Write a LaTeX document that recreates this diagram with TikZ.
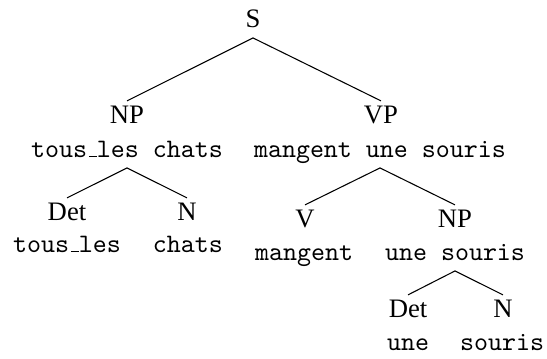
\documentclass[tikz,border=0pt]{standalone}
\usepackage{fontspec}
\setmainfont{Liberation Serif}
\setmonofont{Latin Modern Mono}
\newcommand\usc{\leavevmode\kern.06em\vbox{\hrule width.3em}}
\begin{document}
\begin{tikzpicture}[x=0.375pt,y=-0.375pt,
  cat/.style={font=\rmfamily, anchor=base, inner sep=0pt},
  word/.style={font=\ttfamily, anchor=base, inner sep=0pt},
  branch/.style={line width=0.4pt}]
\useasboundingbox (0,0) rectangle (547,358);
% nodes
\node[cat] (S) at (253,27) {S};
\node[cat] (NPa) at (127,123) {NP};
\node[word] (NPaw) at (127,157) {tous\usc les chats};
\node[cat] (VP) at (381,123) {VP};
\node[word] (VPw) at (380,157) {mangent une souris};
\node[cat] (Deta) at (67,220) {Det};
\node[word] (Detaw) at (67,252) {tous\usc les};
\node[cat] (Na) at (187,220) {N};
\node[word] (Naw) at (188,252) {chats};
\node[cat] (V) at (305,227) {V};
\node[word] (Vw) at (304,260) {mangent};
\node[cat] (NPb) at (455,227) {NP};
\node[word] (NPbw) at (455,260) {une souris};
\node[cat] (Detb) at (408,317) {Det};
\node[word] (Detbw) at (408,350) {une};
\node[cat] (Nb) at (503,317) {N};
\node[word] (Nbw) at (502,350) {souris};
% branches
\draw[branch] ([yshift=-4.1pt]S.base) -- ([yshift=8.3pt]NPa.base);
\draw[branch] ([yshift=-4.1pt]S.base) -- ([yshift=8.3pt]VP.base);
\draw[branch] ([yshift=-4.1pt]NPaw.base) -- ([yshift=8.3pt]Deta.base);
\draw[branch] ([yshift=-4.1pt]NPaw.base) -- ([yshift=8.3pt]Na.base);
\draw[branch] ([yshift=-4.1pt]VPw.base) -- ([yshift=8.3pt]V.base);
\draw[branch] ([yshift=-4.1pt]VPw.base) -- ([yshift=8.3pt]NPb.base);
\draw[branch] ([yshift=-4.1pt]NPbw.base) -- ([yshift=8.3pt]Detb.base);
\draw[branch] ([yshift=-4.1pt]NPbw.base) -- ([yshift=8.3pt]Nb.base);
\end{tikzpicture}
\end{document}
